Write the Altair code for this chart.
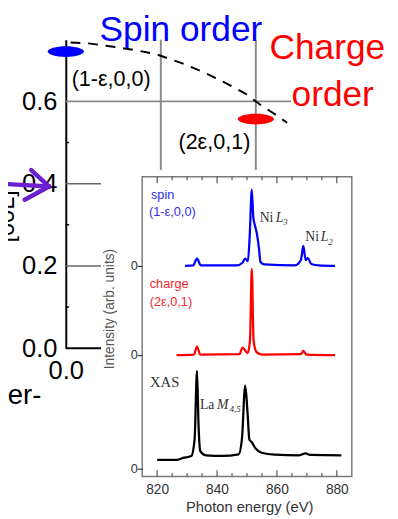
import altair as alt
import pandas as pd

W, H = 390, 511

# ---------------- values ----------------
# outer panel (reciprocal-space sketch)
outer_y_labels = [0.0, 0.2, 0.4, 0.6]
outer_major_grey = [0.2, 0.4]
outer_minor = [0.1, 0.3, 0.5]
outer_grid_x = [0.1, 0.2]
outer_hline_y = [0.6]

dash_x = [0.005, 0.024, 0.050, 0.075, 0.096, 0.122, 0.147, 0.168, 0.189, 0.204, 0.220, 0.233]
dash_y = [0.743, 0.741, 0.733, 0.724, 0.714, 0.693, 0.669, 0.645, 0.619, 0.593, 0.569, 0.548]

spot_name = ["spin", "charge"]
spot_x = [0.0, 0.2]
spot_y = [0.721, 0.557]

arrow_seg = ["shaft", "shaft", "up", "up", "low", "low"]
arrow_x = [-0.069, -0.0175, -0.0364, -0.0175, -0.0433, -0.0175]
arrow_y = [0.400, 0.393, 0.433, 0.393, 0.361, 0.393]

# inset: resonant x-ray spectra
tick_major = [820, 840, 860, 880]
tick_minor = [825, 830, 835, 845, 850, 855, 865, 870, 875]
zero_levels = [0.0, 1.16, 2.07]

spin_E = [829.3, 832.0, 833.3, 834.6, 846.5, 848.4, 849.4, 850.3, 850.9, 851.6, 852.1,
          852.6, 853.3, 854.0, 854.5, 855.8, 866.0, 868.0, 868.8, 869.6, 870.3, 871.5,
          874.0, 879.4]
spin_I = [0.0, 0.005, 0.074, 0.005, 0.005, 0.03, 0.074, 0.05, 0.30, 0.78, 0.50,
          0.42, 0.33, 0.18, 0.04, 0.015, 0.005, 0.06, 0.205, 0.06, 0.08, 0.02,
          0.005, 0.0]

charge_E = [826.5, 832.3, 833.3, 834.4, 847.5, 848.5, 850.2, 851.0, 851.6, 852.2,
            853.2, 855.0, 868.0, 868.8, 869.8, 879.4]
charge_I = [0.0, 0.005, 0.087, 0.005, 0.01, 0.077, 0.02, 0.15, 0.88, 0.15,
            0.03, 0.005, 0.01, 0.043, 0.005, 0.0]

xas_E = [820.0, 826.5, 828.7, 831.4, 832.5, 833.3, 833.8, 834.4, 836.3, 841.8, 847.2,
         848.3, 849.4, 850.2, 850.8, 851.6, 852.7, 854.9, 859.2, 867.4, 869.6, 871.2, 881.5]
xas_I = [0.09, 0.09, 0.11, 0.13, 0.30, 1.00, 0.46, 0.18, 0.137, 0.13, 0.147,
         0.30, 0.847, 0.563, 0.297, 0.27, 0.213, 0.163, 0.143, 0.137, 0.157, 0.14, 0.137]

series_names = ["spin", "charge", "XAS"]
series_colors = ["#0000ff", "#ff0000", "#000000"]

SANS = "Liberation Sans"
SERIF = "Liberation Serif"


# ---------------- scales ----------------
def OXS():
    return alt.Scale(domain=[0, 0.2], range=[59, 253], nice=False, zero=False)


def OYS():
    return alt.Scale(domain=[0, 0.75], range=[342, 27], nice=False, zero=False)


def IXS():
    return alt.Scale(domain=[815, 885], range=[137, 351], nice=False, zero=False)


def IYS():
    return alt.Scale(domain=[-0.08, 2.98], range=[473, 167], nice=False, zero=False)


def text_layer(rows, xs, ys, **mark):
    df = pd.DataFrame(rows, columns=["x", "y", "t"])
    return alt.Chart(df).mark_text(**mark).encode(
        x=alt.X("x:Q", scale=xs, axis=None),
        y=alt.Y("y:Q", scale=ys, axis=None),
        text="t:N",
    )


layers = []

# ---- outer panel: grey major ticks + axes ----
major_df = pd.DataFrame({"y": outer_major_grey, "x0": 0.0, "x1": 0.0371})
layers.append(
    alt.Chart(major_df).mark_rule(color="#666666", strokeWidth=1.5).encode(
        x=alt.X("x0:Q", scale=OXS(), axis=alt.Axis(
            values=[0.0], format=".1f", orient="bottom", offset=342 - H,
            domain=False, ticks=False, grid=False, title=None, labelFlush=False,
            labelFont=SANS, labelFontSize=26, labelColor="black", labelPadding=10)),
        x2="x1:Q",
        y=alt.Y("y:Q", scale=OYS(), axis=alt.Axis(
            values=outer_y_labels, format=".1f", orient="left", offset=-59,
            domain=True, domainColor="black", domainWidth=2, ticks=False, grid=False,
            title=None, labelFont=SANS, labelFontSize=26, labelColor="black",
            labelPadding=9, labelOverlap=False)),
    )
)
# zero line
layers.append(
    alt.Chart(pd.DataFrame({"y": [0.0], "x0": 0.0, "x1": 0.0371})).mark_rule(
        color="black", strokeWidth=2).encode(
        x=alt.X("x0:Q", scale=OXS(), axis=None), x2="x1:Q",
        y=alt.Y("y:Q", scale=OYS(), axis=None))
)
# minor ticks
layers.append(
    alt.Chart(pd.DataFrame({"y": outer_minor, "x0": 0.0, "x1": 0.0035})).mark_rule(
        color="black", strokeWidth=1.5).encode(
        x=alt.X("x0:Q", scale=OXS(), axis=None), x2="x1:Q",
        y=alt.Y("y:Q", scale=OYS(), axis=None))
)
# long 0.6 line
layers.append(
    alt.Chart(pd.DataFrame({"y": outer_hline_y, "x0": 0.0, "x1": 0.2371})).mark_rule(
        color="#8a8a8a", strokeWidth=2).encode(
        x=alt.X("x0:Q", scale=OXS(), axis=None), x2="x1:Q",
        y=alt.Y("y:Q", scale=OYS(), axis=None))
)
# vertical lines
layers.append(
    alt.Chart(pd.DataFrame({"x": outer_grid_x, "y0": 0.4333, "y1": 0.75})).mark_rule(
        color="#8a8a8a", strokeWidth=2).encode(
        x=alt.X("x:Q", scale=OXS(), axis=None),
        y=alt.Y("y0:Q", scale=OYS(), axis=None), y2="y1:Q")
)
# dashed curve
layers.append(
    alt.Chart(pd.DataFrame({"x": dash_x, "y": dash_y})).mark_line(
        color="black", strokeWidth=2, strokeDash=[10, 8]).encode(
        x=alt.X("x:Q", scale=OXS(), axis=None),
        y=alt.Y("y:Q", scale=OYS(), axis=None))
)
# ellipses
ELL = "M-1,0A1,0.3,0,1,0,1,0A1,0.3,0,1,0,-1,0Z"
layers.append(
    alt.Chart(pd.DataFrame({"n": spot_name, "x": spot_x, "y": spot_y})).mark_point(
        shape=ELL, filled=True, opacity=1, size=1369, strokeWidth=0).encode(
        x=alt.X("x:Q", scale=OXS(), axis=None),
        y=alt.Y("y:Q", scale=OYS(), axis=None),
        color=alt.Color("n:N", scale=alt.Scale(domain=["spin", "charge"],
                                               range=["#0000ff", "#ff0000"]), legend=None))
)
# outer texts
layers.append(text_layer([(0.0356, 0.746, "Spin order")], OXS(), OYS(),
                         align="left", baseline="alphabetic", font=SANS, fontSize=36,
                         color="#0000ff"))
layers.append(text_layer([(0.2753, 0.7024, "Charge"), (0.2809, 0.5881, "order")], OXS(), OYS(),
                         align="center", baseline="alphabetic", font=SANS, fontSize=36,
                         color="#ff0000"))
layers.append(text_layer([(0.0062, 0.638, "(1-ε,0,0)"), (0.1186, 0.4845, "(2ε,0,1)")],
                         OXS(), OYS(), align="left", baseline="alphabetic", font=SANS,
                         fontSize=22, color="black"))
layers.append(text_layer([(-0.0258, -0.1357, "order-")], OXS(), OYS(),
                         align="right", baseline="alphabetic", font=SANS, fontSize=28,
                         color="black"))
layers.append(text_layer([(-0.0546, 0.257, "[00L]")], OXS(), OYS(),
                         align="left", baseline="alphabetic", font=SANS, fontSize=24,
                         angle=270, color="black"))

# ---- inset ----
frame = pd.DataFrame({"x0": [815], "x1": [885], "y0": [-0.08], "y1": [2.98]})
layers.append(
    alt.Chart(frame).mark_rect(fill="white", stroke="#7a7a7a", strokeWidth=1.5).encode(
        x=alt.X("x0:Q", scale=IXS(), axis=alt.Axis(
            values=tick_major, format="d", orient="bottom", offset=473 - H,
            domain=False, ticks=False, grid=False, title=None, labelFlush=False,
            labelFont=SANS, labelFontSize=14, labelColor="#333333", labelPadding=6,
            zindex=1)),
        x2="x1:Q",
        y=alt.Y("y0:Q", scale=IYS(), axis=alt.Axis(
            values=zero_levels, labelExpr="'0'", orient="left", offset=-137,
            domain=False, ticks=True, tickSize=5, tickColor="#333333", tickWidth=1.2,
            grid=False, title=None, labelFont=SANS, labelFontSize=13,
            labelColor="#333333", labelPadding=0, zindex=1)),
        y2="y1:Q",
    )
)
# inward ticks (bottom and top)
tick_rows = []
for e in tick_major:
    tick_rows.append((e, -0.08, -0.015))
    tick_rows.append((e, 2.98, 2.915))
for e in tick_minor:
    tick_rows.append((e, -0.08, -0.045))
    tick_rows.append((e, 2.98, 2.945))
layers.append(
    alt.Chart(pd.DataFrame(tick_rows, columns=["x", "y0", "y1"])).mark_rule(
        color="#555555", strokeWidth=1.2).encode(
        x=alt.X("x:Q", scale=IXS(), axis=None),
        y=alt.Y("y0:Q", scale=IYS(), axis=None), y2="y1:Q")
)
# spectra
spec = pd.concat([
    pd.DataFrame({"E": spin_E, "I": [v + zero_levels[2] for v in spin_I], "s": "spin"}),
    pd.DataFrame({"E": charge_E, "I": [v + zero_levels[1] for v in charge_I], "s": "charge"}),
    pd.DataFrame({"E": xas_E, "I": [v + zero_levels[0] for v in xas_I], "s": "XAS"}),
])
layers.append(
    alt.Chart(spec).mark_line(interpolate="monotone", strokeJoin="round").encode(
        x=alt.X("E:Q", scale=IXS(), axis=None),
        y=alt.Y("I:Q", scale=IYS(), axis=None),
        color=alt.Color("s:N", scale=alt.Scale(domain=series_names, range=series_colors),
                        legend=None),
        strokeWidth=alt.StrokeWidth("s:N", scale=alt.Scale(domain=series_names,
                                                           range=[2.3, 2.3, 2.8]),
                                    legend=None),
    )
)
# inset texts
layers.append(text_layer([(817.94, 2.757, "spin"), (817.29, 2.575, "(1-ε,0,0)")], IXS(), IYS(),
                         align="left", baseline="alphabetic", font=SANS, fontSize=13,
                         color="#2f2fe8"))
layers.append(text_layer([(817.52, 1.847, "charge"), (817.52, 1.657, "(2ε,0,1)")], IXS(), IYS(),
                         align="left", baseline="alphabetic", font=SANS, fontSize=13,
                         color="#f02a2a"))
layers.append(text_layer([(817.61, 0.83, "XAS")], IXS(), IYS(),
                         align="left", baseline="alphabetic", font=SERIF, fontSize=15,
                         color="#333333"))
layers.append(text_layer([(854.22, 2.52, "Ni"), (869.48, 2.32, "Ni"), (834.28, 0.613, "La")],
                         IXS(), IYS(), align="left", baseline="alphabetic", font=SERIF,
                         fontSize=14, color="#333333"))
layers.append(text_layer([(859.6, 2.52, "L"), (874.6, 2.32, "L"), (840.0, 0.613, "M")],
                         IXS(), IYS(), align="left", baseline="alphabetic", font=SERIF,
                         fontSize=14, fontStyle="italic", color="#333333"))
layers.append(text_layer([(862.1, 2.49, "3"), (877.1, 2.285, "2"), (844.2, 0.575, "4,5")],
                         IXS(), IYS(), align="left", baseline="alphabetic", font=SERIF,
                         fontSize=9, fontStyle="italic", color="#333333"))
layers.append(text_layer([(805.7, 1.63, "Intensity (arb. units)")], IXS(), IYS(),
                         align="center", baseline="alphabetic", font=SANS, fontSize=14,
                         angle=270, color="#555555"))
layers.append(text_layer([(850.9, -0.44, "Photon energy (eV)")], IXS(), IYS(),
                         align="center", baseline="alphabetic", font=SANS, fontSize=15,
                         color="#333333"))

# ---- purple arrow (on top) ----
layers.append(
    alt.Chart(pd.DataFrame({"seg": arrow_seg, "o": [0, 1, 0, 1, 0, 1],
                            "x": arrow_x, "y": arrow_y})).mark_line(
        color="#6a1fd1", strokeWidth=4.5, strokeCap="round", strokeJoin="round").encode(
        x=alt.X("x:Q", scale=OXS(), axis=None),
        y=alt.Y("y:Q", scale=OYS(), axis=None),
        detail="seg:N", order="o:Q")
)

chart = alt.layer(*layers).resolve_scale(
    x="independent", y="independent", color="independent", strokeWidth="independent"
).properties(
    width=W, height=H, autosize=alt.AutoSizeParams(type="none"), padding=0,
    background="white"
).configure_view(stroke=None)

chart.save("out.html", embed_options={"renderer": "svg", "actions": False})
